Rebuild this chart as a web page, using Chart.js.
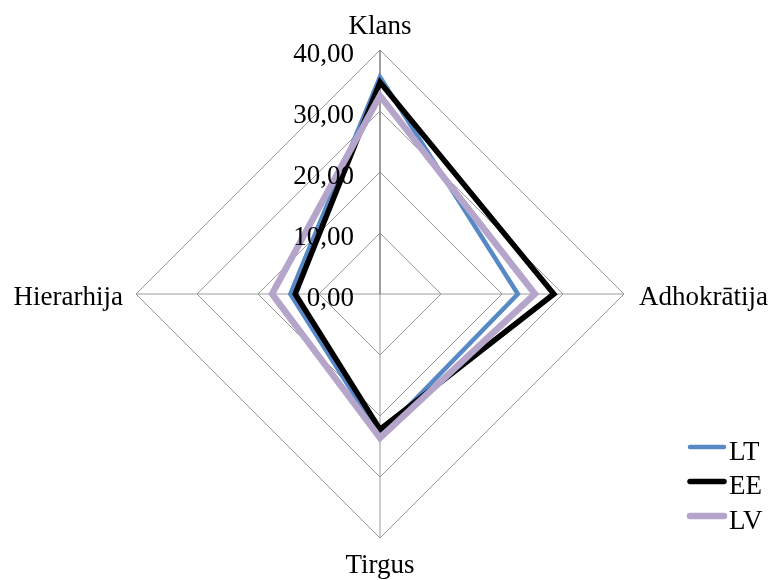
<!DOCTYPE html>
<html>
<head>
<meta charset="utf-8">
<script src="https://cdn.jsdelivr.net/npm/chart.js@4.4.0/dist/chart.umd.min.js"></script>
<style>
  html, body { margin: 0; padding: 0; background: #ffffff; }
  #wrap { width: 772px; height: 580px; }
</style>
</head>
<body>
<div id="wrap"><canvas id="c" width="772" height="580"></canvas></div>
<script>
// Organisational culture profile per country
const categories = ['Klans', 'Adhokrātija', 'Tirgus', 'Hierarhija'];
const seriesNames = ['LT', 'EE', 'LV'];
const valuesLT = [35.6, 22.6, 23.2, 14.7];
const valuesEE = [34.7, 28.5, 22.2, 13.9];
const valuesLV = [32.5, 25.4, 23.6, 17.7];
const tickLabels = ['0,00', '10,00', '20,00', '30,00', '40,00'];

const FONT = '27px "Liberation Serif", "Times New Roman", serif';

// Value-axis labels, category names and the legend, drawn over the series
const textPlugin = {
  id: 'textLayer',
  afterDatasetsDraw(chart) {
    const ctx = chart.ctx;
    const s = chart.scales.r;
    const r = s.drawingArea, xc = s.xCenter, yc = s.yCenter;
    ctx.save();
    ctx.font = FONT;
    ctx.fillStyle = '#000000';
    ctx.textBaseline = 'alphabetic';

    // tick labels to the left of the vertical spoke
    ctx.textAlign = 'right';
    s.ticks.forEach(t => {
      const y = yc - s.getDistanceFromCenterForValue(t.value);
      ctx.fillText(t.label, xc - 26, y + 12);
    });

    // category names around the web
    chart.data.labels.forEach((name, i) => {
      const p = s.getPointPosition(i, r);
      const dx = p.x - xc, dy = p.y - yc;
      if (Math.abs(dx) < 1) {
        ctx.textAlign = 'center';
        ctx.fillText(name, p.x, dy < 0 ? p.y - 16 : p.y + 35);
      } else if (dx > 0) {
        ctx.textAlign = 'left';
        ctx.fillText(name, p.x + 15, p.y + 11);
      } else {
        ctx.textAlign = 'right';
        ctx.fillText(name, p.x - 13, p.y + 11);
      }
    });

    // legend
    chart.data.datasets.forEach((ds, i) => {
      const y = 447 + i * 34.5;
      ctx.beginPath();
      ctx.lineCap = 'round';
      ctx.lineWidth = ds.borderWidth;
      ctx.strokeStyle = ds.borderColor;
      ctx.moveTo(690, y);
      ctx.lineTo(724, y);
      ctx.stroke();
      ctx.textAlign = 'left';
      ctx.fillText(ds.label, 729, y + 12.5);
    });
    ctx.restore();
  }
};

new Chart(document.getElementById('c'), {
  type: 'radar',
  data: {
    labels: categories,
    datasets: [
      { label: seriesNames[0], data: valuesLT, borderColor: '#5689C6', borderWidth: 4.5, order: 3 },
      { label: seriesNames[1], data: valuesEE, borderColor: '#000000', borderWidth: 5.5, order: 2 },
      { label: seriesNames[2], data: valuesLV, borderColor: '#B5A5CB', borderWidth: 6.5, order: 1 }
    ]
  },
  options: {
    responsive: false,
    animation: false,
    events: [],
    layout: { padding: { left: 136, right: 148, top: 50, bottom: 42 } },
    plugins: { legend: { display: false }, tooltip: { enabled: false } },
    elements: {
      line: { tension: 0, fill: false, borderJoinStyle: 'miter', backgroundColor: 'rgba(0,0,0,0)' },
      point: { radius: 0, hoverRadius: 0 }
    },
    scales: {
      r: {
        min: 0,
        max: 40,
        ticks: { stepSize: 10, display: false, callback: (v, i) => tickLabels[i] },
        pointLabels: { display: false },
        grid: { color: '#9A9A9A', lineWidth: 1 },
        angleLines: {
          color: c => c.index === 0 ? '#868686' : '#9A9A9A',
          lineWidth: c => c.index === 0 ? 1.6 : 1
        }
      }
    }
  },
  plugins: [textPlugin]
});
</script>
</body>
</html>
